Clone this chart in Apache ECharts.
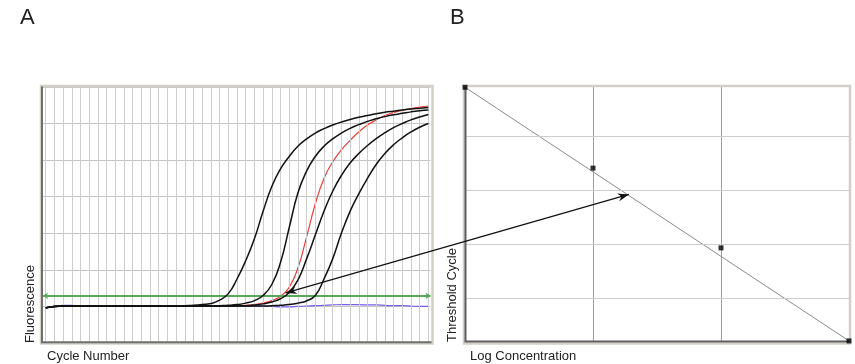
<!DOCTYPE html>
<html><head><meta charset="utf-8">
<script src="https://cdn.jsdelivr.net/npm/echarts@6/dist/echarts.min.js"></script>
<style>html,body{margin:0;padding:0;background:#fff}#c{width:855px;height:364px}</style>
</head><body><div id="c"></div>
<script>
// ---- Panel A data (amplification plot) ----
const cycles = [1,2,3,4,5,6,7,8,9,10,11,12,13,14,15,16,17,18,19,20,21,22,23,24,25,26,27,28,29,30,31,32,33,34,35,36,37,38,39,40,41,42,43,44,45];
const curve1 = [0.96,1.0,1.01,1.01,1.01,1.01,1.01,1.01,1.01,1.01,1.01,1.01,1.01,1.01,1.01,1.01,1.02,1.03,1.05,1.08,1.17,1.35,1.75,2.25,2.85,3.6,4.28,4.76,5.1,5.38,5.58,5.74,5.86,5.96,6.04,6.11,6.17,6.22,6.27,6.31,6.34,6.37,6.40,6.42,6.44];
const curve2 = [0.96,1.0,1.01,1.01,1.01,1.01,1.01,1.01,1.01,1.01,1.01,1.01,1.01,1.01,1.01,1.01,1.01,1.01,1.01,1.01,1.02,1.03,1.05,1.09,1.16,1.3,1.6,2.2,3.15,4.1,4.7,5.1,5.38,5.58,5.74,5.87,5.97,6.06,6.13,6.19,6.24,6.28,6.32,6.35,6.37];
const curveRed = [0.96,1.0,1.02,1.02,1.01,1.01,1.01,1.01,1.01,1.01,1.01,1.01,1.01,1.01,1.01,1.01,1.01,1.01,1.01,1.01,1.01,1.01,1.02,1.03,1.05,1.09,1.16,1.28,1.52,2.05,2.9,3.8,4.5,4.95,5.28,5.54,5.77,5.96,6.1,6.22,6.3,6.36,6.41,6.45,6.48];
const curve3 = [0.96,1.0,1.01,1.01,1.01,1.01,1.01,1.01,1.01,1.01,1.01,1.01,1.01,1.01,1.01,1.01,1.01,1.01,1.01,1.01,1.01,1.01,1.01,1.02,1.04,1.07,1.12,1.21,1.38,1.72,2.3,2.95,3.6,4.15,4.58,4.92,5.18,5.4,5.59,5.75,5.89,6.0,6.1,6.18,6.25];
const curve4 = [0.96,1.0,1.01,1.01,1.01,1.01,1.01,1.01,1.01,1.01,1.01,1.01,1.01,1.01,1.01,1.01,1.01,1.01,1.01,1.01,1.01,1.01,1.01,1.01,1.01,1.01,1.02,1.03,1.05,1.09,1.15,1.3,1.75,2.3,3.0,3.6,4.08,4.5,4.88,5.18,5.42,5.61,5.77,5.9,6.0];
const curveNTC = [0.95,1.0,1.03,1.03,1.02,1.02,1.01,1.01,1.01,1.01,1.01,1.01,1.01,1.01,1.01,1.01,1.01,1.01,1.01,1.01,1.01,1.01,1.01,1.01,1.01,1.01,1.0,0.99,0.99,1.0,1.01,1.02,1.03,1.04,1.05,1.05,1.05,1.04,1.04,1.03,1.02,1.02,1.01,1.0,1.0];
const thresholdValue = 1.29;
const fluorTicks = [0,1,2,3,4,5,6,7];

// ---- Panel B data (standard curve) ----
const logConc = [0,1,2,3];
const stdCt = [29.79,26.81,23.87,20.44];
const fitLogConc = [0,3];
const fitCt = [29.79,20.44];
const ctGridTicks = [22,24,26,28];
const unknownLogConc = 1.28;
const unknownCt = 25.84;
const arrowStartCycle = 28.6;
const arrowStartFluor = 1.37;

const FONT = '"Liberation Sans", Arial, sans-serif';
const chart = echarts.init(document.getElementById('c'), null, {renderer:'canvas'});

function zip(a,b){return a.map((v,i)=>[v,b[i]]);}
function curveSeries(data, color, width, z){
  return {type:'line', xAxisIndex:0, yAxisIndex:0, data:zip(cycles,data), showSymbol:false, symbol:'none',
    smooth:0.5, lineStyle:{color:color, width:width}, z:z, silent:true, animation:false};
}

chart.setOption({
  animation:false,
  grid:[
    {left:43, top:87, width:387.5, height:256},
    {left:465, top:87, width:384, height:255}
  ],
  xAxis:[
    {gridIndex:0, type:'value', min:0.69, max:45.25, axisLine:{show:false}, axisTick:{show:false}, axisLabel:{show:false}, splitLine:{show:false}},
    {gridIndex:1, type:'value', min:0, max:3, interval:1, axisLine:{show:false}, axisTick:{show:false}, axisLabel:{show:false},
      splitLine:{show:true, lineStyle:{color:'#9c9c9c', width:1}}}
  ],
  yAxis:[
    {gridIndex:0, type:'value', min:fluorTicks[0], max:fluorTicks[fluorTicks.length-1], interval:1, axisLine:{show:false}, axisTick:{show:false}, axisLabel:{show:false},
      splitLine:{show:true, lineStyle:{color:'#c4c4c4', width:1}}},
    {gridIndex:1, type:'value', min:20.4, max:29.8, axisLine:{show:false}, axisTick:{show:false}, axisLabel:{show:false}, splitLine:{show:false}}
  ],
  series:[
    {type:'line', xAxisIndex:0, yAxisIndex:0, data:[], z:1, silent:true,
      markLine:{silent:true, symbol:'none', label:{show:false}, animation:false,
        lineStyle:{color:'#cdcdcd', width:1, type:'solid'},
        data:cycles.map(c=>({xAxis:c}))}},
    {type:'line', xAxisIndex:0, yAxisIndex:0, data:[], z:2, silent:true,
      markLine:{silent:true, symbol:['arrow','arrow'], symbolSize:5, label:{show:false}, animation:false,
        lineStyle:{color:'#58a858', width:2, type:'solid'},
        data:[{yAxis:thresholdValue}]}},
    curveSeries(curveNTC, '#7a5cf2', 1.2, 3),
    curveSeries(curveRed, '#e8403a', 1.2, 4),
    curveSeries(curve4, '#111', 1.5, 5),
    curveSeries(curve3, '#111', 1.5, 5),
    curveSeries(curve2, '#111', 1.5, 5),
    curveSeries(curve1, '#111', 1.5, 5),
    {type:'line', xAxisIndex:1, yAxisIndex:1, data:[], z:1, silent:true,
      markLine:{silent:true, symbol:'none', label:{show:false}, animation:false,
        lineStyle:{color:'#cdcdcd', width:1, type:'solid'},
        data:ctGridTicks.map(t=>({yAxis:t}))}},
    {type:'line', xAxisIndex:1, yAxisIndex:1, data:zip(fitLogConc,fitCt), showSymbol:false, symbol:'none',
      lineStyle:{color:'#8a8a8a', width:1}, z:3, silent:true},
    {type:'scatter', xAxisIndex:1, yAxisIndex:1, data:zip(logConc,stdCt), symbol:'rect', symbolSize:5, clip:false,
      itemStyle:{color:'#000'}, z:100, silent:true}
  ]
});

function arrowHead(tip, from, len, half){
  const dx = tip[0]-from[0], dy = tip[1]-from[1];
  const d = Math.sqrt(dx*dx+dy*dy); const ux = dx/d, uy = dy/d;
  const bx = tip[0]-ux*len, by = tip[1]-uy*len;
  return [tip, [bx-uy*half, by+ux*half], [tip[0]-ux*len*0.7, tip[1]-uy*len*0.7], [bx+uy*half, by-ux*half]];
}
const pA = chart.convertToPixel({gridIndex:0}, [arrowStartCycle, arrowStartFluor]);
const pB = chart.convertToPixel({gridIndex:1}, [unknownLogConc, unknownCt]);

chart.setOption({
  graphic:[
    // frames
    {type:'rect', shape:{x:41, y:86, width:391.5, height:257.5}, style:{fill:'none', stroke:'#d3cfc7', lineWidth:2.5}, z:50, silent:true},
    {type:'polyline', shape:{points:[[42,86.5],[42,342.3],[431.5,342.3]]}, style:{fill:'none', stroke:'#6e6e6e', lineWidth:2}, z:51, silent:true},
    {type:'rect', shape:{x:464, y:86, width:386, height:257.5}, style:{fill:'none', stroke:'#d3cfc7', lineWidth:2.5}, z:50, silent:true},
    {type:'polyline', shape:{points:[[465.5,86.5],[465.5,341.5],[849,341.5]]}, style:{fill:'none', stroke:'#5e5e5e', lineWidth:2}, z:51, silent:true},
    // panel letters
    {type:'text', left:20, top:7, style:{text:'A', font:'22px '+FONT, fill:'#222'}, z:60},
    {type:'text', left:450, top:7, style:{text:'B', font:'22px '+FONT, fill:'#222'}, z:60},
    // axis titles
    {type:'text', x:47, y:356, style:{text:'Cycle Number', font:'13px '+FONT, fill:'#222', textAlign:'left', textVerticalAlign:'middle'}, z:60},
    {type:'text', x:470, y:356, style:{text:'Log Concentration', font:'13px '+FONT, fill:'#222', textAlign:'left', textVerticalAlign:'middle'}, z:60},
    {type:'text', x:30, y:343, rotation:Math.PI/2, style:{text:'Fluorescence', font:'13px '+FONT, fill:'#222', textAlign:'left', textVerticalAlign:'middle'}, z:60},
    {type:'text', x:452, y:342, rotation:Math.PI/2, style:{text:'Threshold Cycle', font:'13px '+FONT, fill:'#222', textAlign:'left', textVerticalAlign:'middle'}, z:60},
    // double-headed arrow linking panels
    {type:'line', shape:{x1:pA[0], y1:pA[1], x2:pB[0], y2:pB[1]}, style:{stroke:'#111', lineWidth:1.2}, z:70, silent:true},
    {type:'polygon', shape:{points:arrowHead(pA, pB, 11, 4)}, style:{fill:'#111'}, z:71, silent:true},
    {type:'polygon', shape:{points:arrowHead(pB, pA, 11, 4)}, style:{fill:'#111'}, z:71, silent:true}
  ]
});
</script></body></html>
